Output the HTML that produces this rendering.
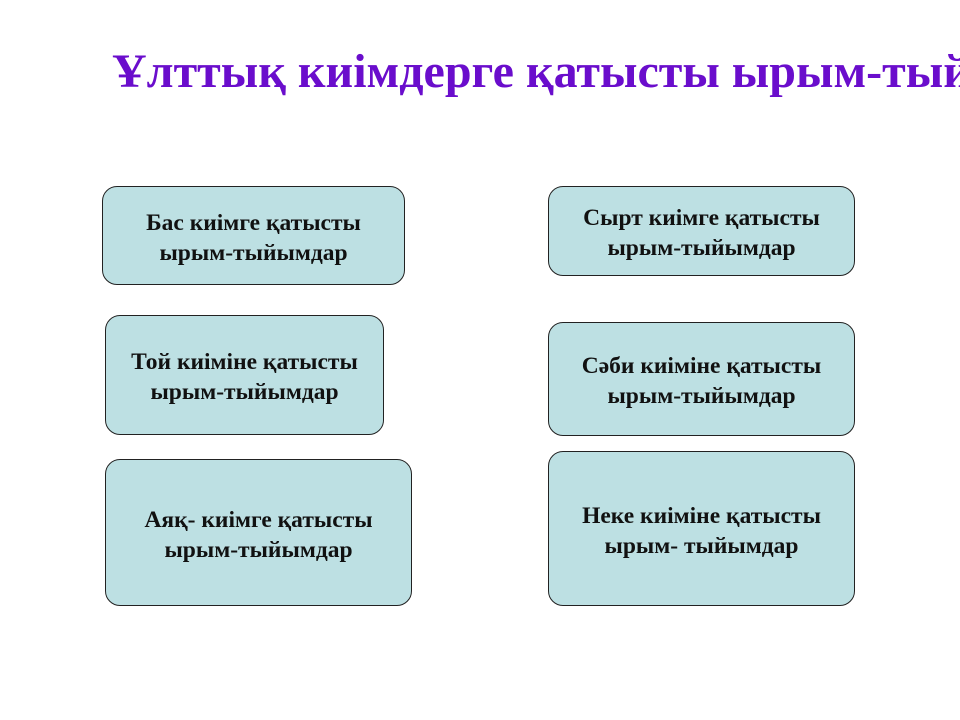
<!DOCTYPE html>
<html><head><meta charset="utf-8"><style>
body{margin:0;width:960px;height:720px;background:#fff;position:relative;overflow:hidden;font-family:"Liberation Serif",serif}
.t{position:absolute;left:112px;top:47px;width:848px;overflow:hidden;font-size:48px;line-height:50px;font-weight:bold;color:#6a0dcc;white-space:nowrap}
.b{position:absolute;box-sizing:border-box;background:#bde0e3;border:1.5px solid #222;border-radius:15px;display:flex;align-items:center;justify-content:center;text-align:center;font-weight:bold;font-size:23.5px;line-height:30px;color:#111;padding-top:4px}
</style></head><body>
<div class="t">Ұлттық киімдерге қатысты ырым-тыйымдар</div>
<div class="b" style="left:102px;top:186px;width:303px;height:99px">Бас киімге қатысты<br>ырым-тыйымдар</div>
<div class="b" style="left:548px;top:186px;width:307px;height:90px">Сырт киімге қатысты<br>ырым-тыйымдар</div>
<div class="b" style="left:105px;top:315px;width:279px;height:120px">Той киіміне қатысты<br>ырым-тыйымдар</div>
<div class="b" style="left:548px;top:322px;width:307px;height:114px">Сәби киіміне қатысты<br>ырым-тыйымдар</div>
<div class="b" style="left:105px;top:459px;width:307px;height:147px">Аяқ- киімге қатысты<br>ырым-тыйымдар</div>
<div class="b" style="left:548px;top:451px;width:307px;height:155px">Неке киіміне қатысты<br>ырым- тыйымдар</div>
</body></html>
